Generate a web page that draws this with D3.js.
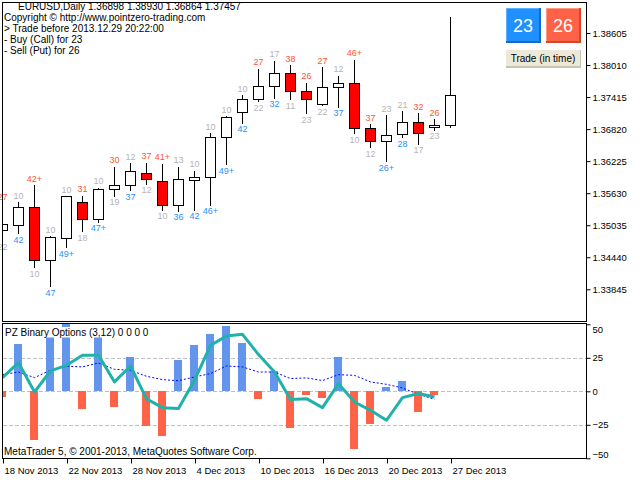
<!DOCTYPE html>
<html>
<head>
<meta charset="utf-8">
<script src="https://cdn.jsdelivr.net/npm/d3@7"></script>
<style>
  html, body { margin: 0; padding: 0; background: #ffffff; }
  svg { display: block; }
  text { font-family: 'Liberation Sans', Arial, sans-serif; }
</style>
</head>
<body>
<svg id="chart" width="640" height="480"></svg>
<script>
/* ---------------------------- data ---------------------------- */
const headerText = 'EURUSD,Daily 1.36898 1.38930 1.36864 1.37457';
const commentLines = [
  'Copyright © http://www.pointzero-trading.com',
  '> Trade before 2013.12.29 20:22:00',
  '- Buy (Call) for 23',
  '- Sell (Put) for 26',
];
const callCount = '23';
const putCount = '26';

const tickIdx = [0, 4, 8, 12, 16, 20, 24, 28];
const tickLabels = ['18 Nov 2013', '22 Nov 2013', '28 Nov 2013', '4 Dec 2013',
  '10 Dec 2013', '16 Dec 2013', '20 Dec 2013', '27 Dec 2013'];
const priceTicks = [1.33845, 1.3444, 1.35035, 1.3563, 1.36225, 1.3682, 1.37415, 1.3801, 1.38605];
const oscTicks = [50, 25, 0, -25, -50];

const open = [1.34941, 1.35034, 1.35368, 1.34389, 1.34792, 1.35461, 1.35145, 1.35708, 1.35777, 1.36011,
  1.35851, 1.35405, 1.35869, 1.35925, 1.36668, 1.37132, 1.37385, 1.37615, 1.37857, 1.37522,
  1.37281, 1.37597, 1.37671, 1.36835, 1.36594, 1.36724, 1.36947, 1.36854, 1.36898];
const high = [1.35448, 1.35479, 1.35795, 1.34848, 1.35587, 1.35602, 1.35751, 1.36144, 1.36209, 1.36215,
  1.36191, 1.36135, 1.36061, 1.36761, 1.37082, 1.37467, 1.37961, 1.38104, 1.38029, 1.37701,
  1.37992, 1.37825, 1.38128, 1.36928, 1.37095, 1.37169, 1.37132, 1.37021, 1.3893];
const low = [1.34751, 1.34885, 1.34254, 1.33906, 1.34625, 1.34922, 1.35095, 1.35578, 1.35689, 1.35801,
  1.35318, 1.35305, 1.35318, 1.35416, 1.36172, 1.36939, 1.37337, 1.37403, 1.37379, 1.37114,
  1.37262, 1.37236, 1.36742, 1.36482, 1.36222, 1.36668, 1.36544, 1.36809, 1.36864];
const close = [1.35052, 1.35368, 1.34389, 1.34811, 1.35578, 1.35145, 1.35702, 1.35782, 1.36037, 1.35888,
  1.35405, 1.35888, 1.35931, 1.36668, 1.37039, 1.37374, 1.37615, 1.37857, 1.37522, 1.37374,
  1.37597, 1.37671, 1.36835, 1.36594, 1.36705, 1.36947, 1.36742, 1.36891, 1.37457];

// numbers printed above (put) and below (call) each bar
const putText = ['27', '10', '42+', '10', '10', '31', '10', '30', '12', '37', '41+', '13', '10', '10',
  '10', '10', '27', '17', '38', '26', '27', '12', '46+', '37', '23', '21', '32', '26'];
const callText = ['22', '42', '10', '47', '49+', '18', '47+', '19', '37', '12', '10', '36', '42', '46+',
  '49+', '42', '22', '32', '11', '23', '22', '37', '10', '12', '26+', '28', '17', '23'];

// PZ Binary Options sub window
const histValues = [-4.2, 35.1, -36.3, 42, 51, -13.2, 42, -11.7, 25.4, -25.6, -33.3, 23.1, 34.6, 42.5,
  48.5, 35.8, -5.7, 14.9, -27.4, -2.7, -5.0, 25.4, -43.0, -24.4, 3.0, 7.5, -15.4, -2.7];
const fastValues = [10.2, 21.4, -0.5, 15.2, 19.4, 26.9, 26.9, 7.0, 18.9, -5.7, -12.2, -12.9, 8.2, 34.3,
  41.3, 42.5, 27.4, 14.4, -6.2, -5.5, -12.2, 5.7, -8.0, -14.2, -21.6, -4.7, -1.7, -4.2];
const slowValues = [12.4, 14.4, 10.2, 15.7, 18.7, 18.2, 21.1, 16.4, 15.7, 11.2, 8.7, 7.9, 10.7, 13.2,
  18.9, 18.2, 14.4, 14.4, 9.5, 10.0, 8.0, 12.4, 11.9, 7.0, 5.2, 2.5, -2.2, -6.0];

/* --------------------------- layout --------------------------- */
const frameL = 2.5;
const frameR = 586.5;
const mainTop = 2.5;
const mainBottom = 321.5;
const oscTop = 323.5;
const oscBottom = 458.5;

const colors = {
  bull: '#ffffff',
  bear: '#ff0000',
  put: '#ff5533',
  call: '#1e90ff',
  muted: '#b4b4b4',
  histUp: '#6495ed',
  histDown: '#ff6347',
  fast: '#20b2aa',
  slow: '#0000ff',
  grid: '#c0c0c0',
};

const svg = d3.select('#chart');

const x = d3.scaleLinear().domain([0, 36.5]).range([frameL, frameR]);
const y = d3.scaleLinear().domain([1.33845, 1.38605]).range([289.3, 33]);
const yOsc = d3.scaleLinear().domain([-50, 50]).range([458.3, 324.3]);
const px = (i) => Math.floor(x(i)) + 0.5;
const snap = (v) => Math.round(v) + 0.5;

const defs = svg.append('defs');
defs.append('clipPath').attr('id', 'clipMain')
  .append('rect').attr('x', frameL).attr('y', mainTop)
  .attr('width', frameR - frameL).attr('height', mainBottom - mainTop);
defs.append('clipPath').attr('id', 'clipOsc')
  .append('rect').attr('x', frameL).attr('y', oscTop)
  .attr('width', frameR - frameL).attr('height', oscBottom - oscTop);

/* --------------------------- candles -------------------------- */
const candles = open.map((o, i) => ({ i, o, h: high[i], l: low[i], c: close[i] }));

const gMain = svg.append('g').attr('clip-path', 'url(#clipMain)')
  .attr('shape-rendering', 'crispEdges');

gMain.selectAll('line.wick')
  .data(candles)
  .join('line')
  .attr('class', 'wick')
  .attr('x1', (d) => px(d.i))
  .attr('x2', (d) => px(d.i))
  .attr('y1', (d) => snap(y(d.h)))
  .attr('y2', (d) => snap(y(d.l)))
  .attr('stroke', '#000');

gMain.selectAll('rect.body')
  .data(candles)
  .join('rect')
  .attr('class', 'body')
  .attr('x', (d) => px(d.i) - 5)
  .attr('width', 10)
  .attr('y', (d) => snap(y(Math.max(d.o, d.c))))
  .attr('height', (d) => Math.max(1, snap(y(Math.min(d.o, d.c))) - snap(y(Math.max(d.o, d.c)))))
  .attr('fill', (d) => (d.c >= d.o ? colors.bull : colors.bear))
  .attr('stroke', '#000');

const signals = putText.map((p, i) => {
  const putWins = parseInt(p, 10) > parseInt(callText[i], 10);
  return { i, put: p, call: callText[i], putWins };
});

const gLabels = svg.append('g')
  .attr('font-size', '9px')
  .attr('text-anchor', 'middle');

gLabels.selectAll('text.put')
  .data(signals)
  .join('text')
  .attr('class', 'put')
  .attr('x', (d) => px(d.i))
  .attr('y', (d) => y(high[d.i]) - 2.5)
  .attr('fill', (d) => (d.putWins ? colors.put : colors.muted))
  .text((d) => d.put);

gLabels.selectAll('text.call')
  .data(signals)
  .join('text')
  .attr('class', 'call')
  .attr('x', (d) => px(d.i))
  .attr('y', (d) => y(low[d.i]) + 9.5)
  .attr('fill', (d) => (d.putWins ? colors.muted : colors.call))
  .text((d) => d.call);

/* ------------------------- oscillator ------------------------- */
const gOsc = svg.append('g').attr('clip-path', 'url(#clipOsc)');

gOsc.selectAll('line.grid')
  .data([25, 0, -25])
  .join('line')
  .attr('class', 'grid')
  .attr('x1', frameL)
  .attr('x2', frameR)
  .attr('y1', (d) => snap(yOsc(d)))
  .attr('y2', (d) => snap(yOsc(d)))
  .attr('stroke', colors.grid)
  .attr('stroke-dasharray', '4,2')
  .attr('shape-rendering', 'crispEdges');

gOsc.selectAll('rect.hist')
  .data(histValues)
  .join('rect')
  .attr('class', 'hist')
  .attr('x', (d, i) => Math.floor(x(i)) - 4)
  .attr('width', 8)
  .attr('y', (d) => Math.round(yOsc(Math.max(d, 0))))
  .attr('height', (d) => Math.abs(Math.round(yOsc(d)) - Math.round(yOsc(0))))
  .attr('fill', (d) => (d >= 0 ? colors.histUp : colors.histDown))
  .attr('shape-rendering', 'crispEdges');

const oscLine = d3.line().x((d, i) => px(i)).y((d) => yOsc(d));

gOsc.append('path')
  .datum(slowValues)
  .attr('d', oscLine)
  .attr('fill', 'none')
  .attr('stroke', colors.slow)
  .attr('stroke-width', 1)
  .attr('stroke-dasharray', '2,2');

gOsc.append('path')
  .datum(fastValues)
  .attr('d', oscLine)
  .attr('fill', 'none')
  .attr('stroke', colors.fast)
  .attr('stroke-width', 3)
  .attr('stroke-linejoin', 'round');

// indicator name over a white box
svg.append('rect')
  .attr('x', 4).attr('y', 327).attr('width', 138).attr('height', 10.5)
  .attr('fill', '#fff');
svg.append('text')
  .attr('x', 5).attr('y', 336)
  .attr('font-size', '10px')
  .text('PZ Binary Options (3,12) 0 0 0 0');

svg.append('text')
  .attr('x', 4).attr('y', 455)
  .attr('font-size', '10px')
  .text('MetaTrader 5, © 2001-2013, MetaQuotes Software Corp.');

/* ---------------------------- axes ---------------------------- */
const axisFont = "'Liberation Sans', Arial, sans-serif";

const priceAxis = d3.axisRight(y)
  .tickValues(priceTicks)
  .tickSize(4)
  .tickPadding(2)
  .tickFormat(d3.format('.5f'));

svg.append('g')
  .attr('transform', `translate(${frameR},0)`)
  .call(priceAxis)
  .call((g) => g.select('.domain').remove())
  .call((g) => g.selectAll('text').attr('font-size', '9.5px').attr('fill', '#000')
    .attr('font-family', axisFont));

const oscAxis = d3.axisRight(yOsc)
  .tickValues(oscTicks)
  .tickSize(4)
  .tickPadding(2)
  .tickFormat(d3.format('d'));

svg.append('g')
  .attr('transform', `translate(${frameR},0)`)
  .call(oscAxis)
  .call((g) => g.select('.domain').remove())
  .call((g) => g.selectAll('text').attr('font-size', '9.5px').attr('fill', '#000')
    .attr('font-family', axisFont)
    .attr('dy', (d) => (d === 50 ? '0.9em' : d === -50 ? '-0.05em' : '0.32em')));

const timeAxis = d3.axisBottom(x)
  .tickValues(tickIdx)
  .tickSize(5)
  .tickFormat((d, i) => tickLabels[i]);

svg.append('g')
  .attr('transform', `translate(0,${oscBottom})`)
  .call(timeAxis)
  .call((g) => g.select('.domain').remove())
  .call((g) => g.selectAll('.tick line').attr('transform', 'translate(0.5,0)'))
  .call((g) => g.selectAll('text').attr('font-size', '9.5px').attr('fill', '#000')
    .attr('font-family', axisFont)
    .attr('text-anchor', 'start').attr('x', 1.5).attr('dy', '0.75em'));

/* --------------------------- frames --------------------------- */
const gFrame = svg.append('g')
  .attr('fill', 'none')
  .attr('stroke', '#000')
  .attr('shape-rendering', 'crispEdges');
gFrame.append('rect')
  .attr('x', frameL).attr('y', mainTop)
  .attr('width', frameR - frameL).attr('height', mainBottom - mainTop);
gFrame.append('rect')
  .attr('x', frameL).attr('y', oscTop)
  .attr('width', frameR - frameL).attr('height', oscBottom - oscTop);

/* --------------------------- comment -------------------------- */
const gText = svg.append('g').attr('fill', '#000').attr('font-size', '10px');
gText.append('text')
  .attr('x', 18).attr('y', 9.5)
  .text(headerText);
gText.selectAll('text.line')
  .data(commentLines)
  .join('text')
  .attr('class', 'line')
  .attr('x', 4)
  .attr('y', (d, i) => 20.5 + i * 11)
  .text((d) => d);

/* --------------------------- buttons -------------------------- */
const buttons = [
  { label: callCount, x: 506, fill: '#1e90ff', light: '#5fb0ff', dark: '#1868c8' },
  { label: putCount, x: 546, fill: '#ff6347', light: '#ff9a80', dark: '#d8442a' },
];
const gBtn = svg.append('g').attr('shape-rendering', 'crispEdges');
buttons.forEach((b) => {
  gBtn.append('rect').attr('x', b.x).attr('y', 8).attr('width', 35).attr('height', 35).attr('fill', b.dark);
  gBtn.append('rect').attr('x', b.x).attr('y', 8).attr('width', 33).attr('height', 33).attr('fill', b.light);
  gBtn.append('rect').attr('x', b.x + 1).attr('y', 9).attr('width', 32).attr('height', 32).attr('fill', b.fill);
  svg.append('text')
    .attr('x', b.x + 17).attr('y', 32)
    .attr('text-anchor', 'middle')
    .attr('font-size', '18px')
    .attr('fill', '#fff')
    .text(b.label);
});
gBtn.append('rect').attr('x', 506).attr('y', 50).attr('width', 75).attr('height', 18).attr('fill', '#c8c4b4');
gBtn.append('rect').attr('x', 506).attr('y', 50).attr('width', 74).attr('height', 16).attr('fill', '#ece9d8');
svg.append('text')
  .attr('x', 543).attr('y', 62)
  .attr('text-anchor', 'middle')
  .attr('font-size', '10px')
  .attr('fill', '#000')
  .text('Trade (in time)');
</script>
</body>
</html>
